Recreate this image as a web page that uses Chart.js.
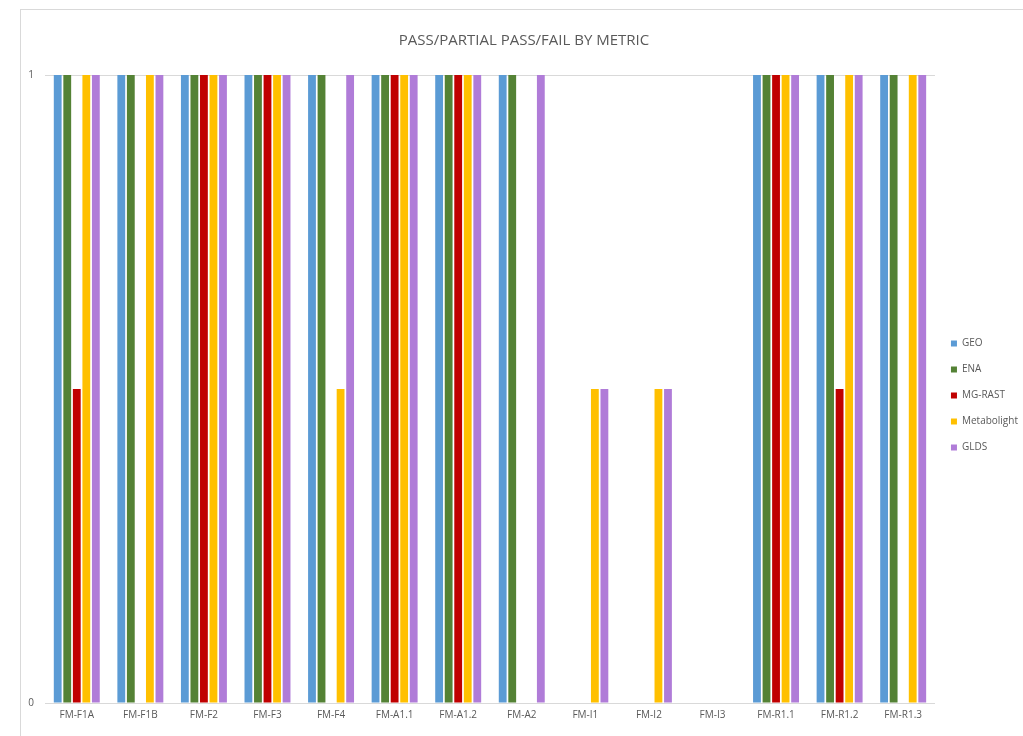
<!DOCTYPE html>
<html>
<head>
<meta charset="utf-8">
<script src="https://cdn.jsdelivr.net/npm/chart.js@4"></script>
<style>
  html, body { margin: 0; padding: 0; background: #ffffff; }
  #wrap { position: relative; width: 1023px; height: 736px; overflow: hidden; }
  #frame { position: absolute; left: 20px; top: 9px; width: 1100px; height: 800px;
           border-left: 1px solid #d9d9d9; border-top: 1px solid #d9d9d9; }
  canvas { position: absolute; left: 0; top: 0; }
</style>
</head>
<body>
<div id="wrap">
  <div id="frame"></div>
  <canvas id="chart" width="1023" height="736"></canvas>
</div>
<script>
// Metrics evaluated (x axis)
const metrics = ['FM-F1A', 'FM-F1B', 'FM-F2', 'FM-F3', 'FM-F4', 'FM-A1.1', 'FM-A1.2',
                 'FM-A2', 'FM-I1', 'FM-I2', 'FM-I3', 'FM-R1.1', 'FM-R1.2', 'FM-R1.3'];

// 1 = pass, 0.5 = partial pass, 0 = fail
const geo         = [1, 1, 1, 1, 1, 1, 1, 1, 0, 0, 0, 1, 1, 1];
const ena         = [1, 1, 1, 1, 1, 1, 1, 1, 0, 0, 0, 1, 1, 1];
const mgRast      = [0.5, 0, 1, 1, 0, 1, 1, 0, 0, 0, 0, 1, 0.5, 0];
const metabolight = [1, 1, 1, 1, 0.5, 1, 1, 0, 0.5, 0.5, 0, 1, 1, 1];
const glds        = [1, 1, 1, 1, 1, 1, 1, 1, 0.5, 0.5, 0, 1, 1, 1];

const yTicks = [0, 1];

const fontFamily = "'Open Sans', sans-serif";
const textGray = '#595959';

const series = [
  { label: 'GEO', data: geo, color: '#5B9BD5' },
  { label: 'ENA', data: ena, color: '#548235' },
  { label: 'MG-RAST', data: mgRast, color: '#C00000' },
  { label: 'Metabolight', data: metabolight, color: '#FFC000' },
  { label: 'GLDS', data: glds, color: '#B07CD8' }
];

new Chart(document.getElementById('chart'), {
  type: 'bar',
  data: {
    labels: metrics,
    datasets: series.map(s => ({
      label: s.label,
      data: s.data,
      backgroundColor: s.color,
      borderWidth: 0,
      categoryPercentage: 0.75,
      barPercentage: 0.82
    }))
  },
  options: {
    responsive: false,
    animation: false,
    layout: { padding: { left: 20, right: -5, top: 32, bottom: 9 } },
    plugins: {
      title: {
        display: true,
        text: 'PASS/PARTIAL PASS/FAIL BY METRIC',
        color: textGray,
        font: { family: fontFamily, size: 15, weight: 'normal' },
        padding: { top: 0, bottom: 25 }
      },
      legend: {
        position: 'right',
        align: 'center',
        // empty title block only used as top spacing for the entries
        title: { display: true, text: '', font: { size: 10 }, padding: { top: 20, bottom: 0 } },
        labels: {
          boxWidth: 6,
          boxHeight: 6,
          padding: 16,
          color: textGray,
          font: { family: fontFamily, size: 10 }
        }
      },
      tooltip: { enabled: false }
    },
    scales: {
      x: {
        grid: { display: false, drawTicks: false },
        border: { display: true, color: '#d9d9d9' },
        ticks: { color: textGray, font: { family: fontFamily, size: 10 }, padding: 6, maxRotation: 0 }
      },
      y: {
        min: 0,
        max: 1,
        afterBuildTicks: scale => { scale.ticks = yTicks.map(v => ({ value: v })); },
        afterFit: scale => { scale.width = 25; },
        grid: { color: '#d9d9d9', drawTicks: false },
        border: { display: false },
        ticks: { color: textGray, font: { family: fontFamily, size: 10 }, padding: 11 }
      }
    }
  }
});
</script>
</body>
</html>
